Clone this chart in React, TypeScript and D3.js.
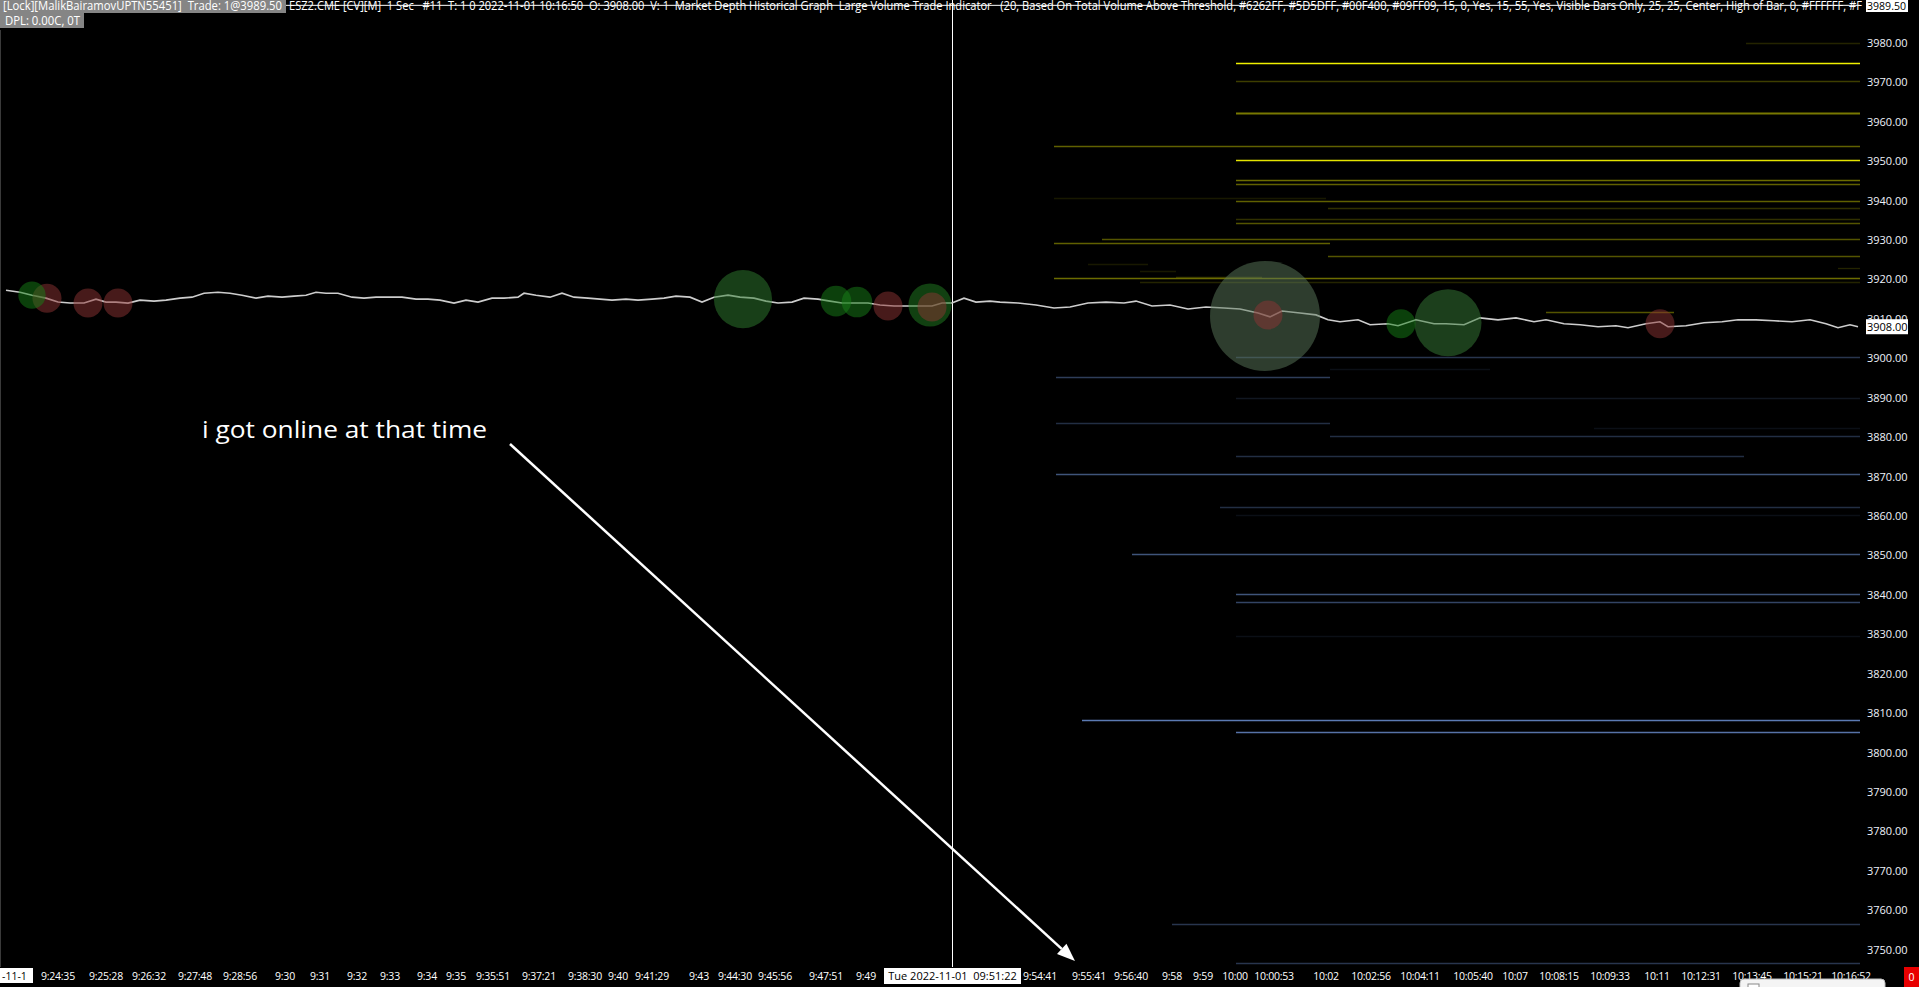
import React, { useEffect, useRef } from 'react'
import * as d3 from 'd3'

const WIDTH = 1919
const HEIGHT = 987
const FONT = '"Open Sans", "Noto Sans", sans-serif'

// 1 sec bars, index along the visible chart
const priceBars = [
  3, 10, 16, 23, 29, 35, 42, 48, 53, 58,
  64, 70, 77, 83, 90, 96, 102, 109, 115, 121,
  128, 134, 141, 147, 153, 158, 163, 169, 176, 182,
  188, 195, 201, 208, 214, 220, 227, 233, 239, 246,
  252, 259, 262, 268, 275, 281, 287, 294, 300, 306,
  313, 319, 326, 332, 338, 345, 351, 357, 364, 370,
  377, 383, 389, 396, 402, 409, 415, 421, 428, 434,
  440, 447, 453, 460, 466, 471, 476, 482, 488, 495,
  500, 509, 518, 527, 535, 544, 553, 562, 568, 576,
  585, 594, 603, 612, 620, 629, 635, 641, 650, 658,
  664, 670, 679, 685, 694, 699, 708, 717, 723, 732,
  740, 749, 758, 767, 773, 782, 790, 799, 808, 814,
  823, 830, 834, 843, 852, 861, 869, 878, 887, 896,
  905, 913, 919, 925, 929,
]
const priceValues = [
  3917.25, 3916.75, 3916.0, 3915.25, 3914.25, 3914.0, 3914.0, 3915.0, 3914.25, 3914.25,
  3914.0, 3914.75, 3914.5, 3914.75, 3915.25, 3915.5, 3916.5, 3916.75, 3916.5, 3916.0,
  3915.25, 3915.75, 3915.5, 3915.75, 3916.0, 3916.75, 3916.5, 3916.5, 3915.5, 3915.25,
  3915.5, 3915.5, 3915.5, 3915.0, 3915.0, 3914.75, 3914.0, 3914.75, 3914.25, 3915.25,
  3915.25, 3915.5, 3916.5, 3916.0, 3915.5, 3916.5, 3915.5, 3915.25, 3915.0, 3914.75,
  3915.0, 3914.75, 3915.0, 3915.25, 3915.75, 3915.5, 3914.25, 3915.5, 3916.0, 3915.5,
  3915.25, 3914.5, 3914.0, 3914.25, 3915.25, 3915.0, 3914.5, 3914.0, 3914.0, 3914.0,
  3913.5, 3913.25, 3913.25, 3913.25, 3913.25, 3914.0, 3914.0, 3915.25, 3914.25, 3914.5,
  3914.25, 3914.0, 3913.5, 3912.75, 3913.0, 3914.0, 3914.25, 3914.0, 3914.5, 3913.25,
  3913.5, 3912.5, 3913.0, 3912.75, 3912.5, 3911.5, 3910.5, 3912.0, 3911.5, 3911.0,
  3909.75, 3909.25, 3909.75, 3908.5, 3908.75, 3908.25, 3909.75, 3908.75, 3908.75, 3908.5,
  3910.25, 3909.75, 3910.25, 3909.25, 3909.75, 3908.75, 3908.5, 3908.0, 3908.25, 3907.75,
  3908.75, 3909.25, 3908.0, 3908.25, 3909.0, 3909.25, 3909.75, 3909.75, 3909.5, 3909.25,
  3909.75, 3908.75, 3907.75, 3908.5, 3908.0,
]

// large volume trades
const tradeBars = [16, 23.5, 44, 59, 371.5, 418, 428.5, 444, 465, 466, 632.5, 634, 700.5, 724, 830]
const tradePrices = [3916.0, 3915.25, 3914.0, 3914.0, 3915.0, 3914.5, 3914.25, 3913.25, 3913.5, 3913.0, 3910.75, 3911.0, 3908.75, 3909.0, 3908.75]
const tradeVolumes = [22, 25, 25, 25, 108, 28, 28, 25, 58, 25, 400, 25, 25, 145, 25]
const tradeSides = ['buy', 'sell', 'sell', 'sell', 'buy', 'buy', 'buy', 'sell', 'buy', 'sell', 'buy', 'sell', 'buy', 'buy', 'sell']

// market depth history, sell side
const askPrices = [3980.0, 3975.0, 3970.25, 3962.25, 3953.75, 3950.25, 3945.25, 3944.25, 3940.75, 3940.0, 3938.0, 3935.25, 3934.25, 3930.25, 3929.25, 3926.0, 3924.0, 3923.0, 3922.25, 3920.5, 3920.25, 3919.25, 3911.75]
const askStart = [873, 618, 618, 618, 527, 618, 618, 618, 527, 618, 664, 618, 618, 551, 527, 664, 544, 919, 570, 588, 527, 570, 773]
const askEnd = [930, 930, 930, 930, 930, 930, 930, 930, 663, 930, 930, 930, 930, 930, 665, 930, 574, 930, 588, 631, 930, 930, 837]
const askSizes = [15, 100, 26, 50, 40, 95, 45, 40, 10, 40, 20, 20, 35, 35, 40, 35, 10, 15, 10, 20, 45, 15, 35]

// market depth history, buy side
const bidPrices = [3900.25, 3897.25, 3895.25, 3890.0, 3883.5, 3882.25, 3880.25, 3875.25, 3870.75, 3862.25, 3860.25, 3850.25, 3840.25, 3838.25, 3829.5, 3808.25, 3805.25, 3756.5, 3746.75]
const bidStart = [618, 665, 528, 618, 528, 797, 665, 618, 528, 610, 618, 566, 618, 618, 618, 541, 618, 586, 618]
const bidEnd = [930, 745, 665, 930, 665, 930, 930, 872, 930, 930, 930, 930, 930, 930, 930, 930, 930, 930, 930]
const bidSizes = [35, 10, 40, 15, 30, 10, 30, 30, 55, 30, 10, 55, 55, 45, 10, 80, 75, 35, 35]

const priceTicks = [3750, 3760, 3770, 3780, 3790, 3800, 3810, 3820, 3830, 3840, 3850, 3860, 3870, 3880, 3890, 3900, 3910, 3920, 3930, 3940, 3950, 3960, 3970, 3980]

const timeLabels = [
  '9:24:35', '9:25:28', '9:26:32', '9:27:48', '9:28:56', '9:30', '9:31', '9:32', '9:33', '9:34',
  '9:35', '9:35:51', '9:37:21', '9:38:30', '9:40', '9:41:29', '9:43', '9:44:30', '9:45:56', '9:47:51',
  '9:49', '9:54:41', '9:55:41', '9:56:40', '9:58', '9:59', '10:00', '10:00:53', '10:02', '10:02:56',
  '10:04:11', '10:05:40', '10:07', '10:08:15', '10:09:33', '10:11', '10:12:31', '10:13:45', '10:15:21', '10:16:52',
]
const timeLabelBars = [
  29, 53, 74.5, 97.5, 120, 142.5, 160, 178.5, 195, 213.5,
  228, 246.5, 269.5, 292.5, 309, 326, 349.5, 367.5, 387.5, 413,
  433, 520, 544.5, 565.5, 586, 601.5, 617.5, 637, 663, 685.5,
  710, 736.5, 757.5, 779.5, 805, 828.5, 850.5, 876, 901.5, 925.5,
]

const headerLeft = '[Lock][MalikBairamovUPTN55451]  Trade: 1@3989.50'
const headerRight = 'ESZ2.CME [CV][M]  1 Sec   #11  T: 1 0 2022-11-01 10:16:50  O: 3908.00  V: 1  Market Depth Historical Graph  Large Volume Trade Indicator   (20, Based On Total Volume Above Threshold, #6262FF, #5D5DFF, #00F400, #09FF09, 15, 0, Yes, 15, 55, Yes, Visible Bars Only, 25, 25, Center, High of Bar, 0, #FFFFFF, #F'
const lastTradePrice = 3989.5
const lastPrice = 3908
const cursorBar = 476
const cursorLabel = 'Tue 2022-11-01  09:51:22'
const note = 'i got online at that time'

export default function App() {
  const svgRef = useRef<SVGSVGElement>(null)

  useEffect(() => {
    if (!svgRef.current) return
    document.body.style.margin = '0'
    document.body.style.background = '#000'
    const svg = d3.select(svgRef.current)
    svg.selectAll('*').remove()

    const x = d3.scaleLinear().domain([0, 930]).range([0, 1860])
    const y = d3.scaleLinear().domain([3750, 3980]).range([949.8, 42.8])
    const plotRight = 1860
    const axisTop = 967

    svg.append('rect').attr('width', WIDTH).attr('height', HEIGHT).attr('fill', '#000')

    // left border
    svg.append('line')
      .attr('x1', 0.5).attr('x2', 0.5).attr('y1', 30).attr('y2', axisTop)
      .attr('stroke', '#3a3a3a')

    // depth lines
    const askColor = d3.scaleLinear<string>().domain([0, 100]).range(['#000000', '#f0f000'])
    const bidColor = d3.scaleLinear<string>().domain([0, 100]).range(['#000000', '#7298de'])
    const depth = [
      ...askPrices.map((p, i) => ({ price: p, start: askStart[i], end: askEnd[i], size: askSizes[i], side: 'ask' })),
      ...bidPrices.map((p, i) => ({ price: p, start: bidStart[i], end: bidEnd[i], size: bidSizes[i], side: 'bid' })),
    ]
    svg.append('g')
      .selectAll('line')
      .data(depth)
      .join('line')
      .attr('x1', d => x(d.start))
      .attr('x2', d => x(d.end))
      .attr('y1', d => Math.round(y(d.price)) + 0.5)
      .attr('y2', d => Math.round(y(d.price)) + 0.5)
      .attr('stroke', d => d.side === 'ask' ? askColor(d.size) : bidColor(d.size))
      .attr('stroke-width', d => d.size >= 50 && d.size < 60 && d.side === 'ask' ? 2 : 1.3)

    // last trade line
    svg.append('line')
      .attr('x1', 0).attr('x2', plotRight)
      .attr('y1', y(lastTradePrice)).attr('y2', y(lastTradePrice))
      .attr('stroke', '#ffffff').attr('stroke-width', 1)

    // crosshair
    svg.append('line')
      .attr('x1', x(cursorBar) + 0.5).attr('x2', x(cursorBar) + 0.5)
      .attr('y1', 0).attr('y2', axisTop)
      .attr('stroke', '#ffffff').attr('stroke-width', 1)

    // price line
    const series = priceBars.map((b, i) => ({ bar: b, price: priceValues[i] }))
    const line = d3.line<{ bar: number; price: number }>()
      .x(d => x(d.bar))
      .y(d => y(d.price))
    svg.append('path')
      .datum(series)
      .attr('d', line)
      .attr('fill', 'none')
      .attr('stroke', '#cdcdcd')
      .attr('stroke-width', 1.6)
      .attr('stroke-linejoin', 'miter')

    // large trade bubbles
    const rScale = d3.scaleSqrt().domain([25, 400]).range([14.5, 55])
    const buyShade = d3.scaleSqrt<string>().domain([25, 400]).range(['#168016', '#5c7a5c']).clamp(true)
    const trades = tradeBars
      .map((b, i) => ({ bar: b, price: tradePrices[i], vol: tradeVolumes[i], side: tradeSides[i] }))
      .sort((a, b) => b.vol - a.vol)
    svg.append('g')
      .selectAll('ellipse')
      .data(trades)
      .join('ellipse')
      .attr('cx', d => x(d.bar))
      .attr('cy', d => y(d.price))
      .attr('rx', d => rScale(d.vol))
      .attr('ry', d => rScale(d.vol))
      .attr('fill', d => d.side === 'buy' ? buyShade(d.vol) : '#8e3434')
      .attr('fill-opacity', 0.5)

    // right price axis
    const axisG = svg.append('g').style('font-family', FONT).style('font-size', '11px')
    axisG.selectAll('text')
      .data(priceTicks)
      .join('text')
      .attr('x', 1867)
      .attr('y', d => y(d) + 4)
      .attr('fill', '#eef2fa')
      .text(d => d.toFixed(2))

    const lastY = y(lastPrice)
    axisG.append('rect')
      .attr('x', 1866).attr('y', lastY - 7.5).attr('width', 42).attr('height', 15).attr('fill', '#fff')
    axisG.append('text')
      .attr('x', 1867).attr('y', lastY + 4).attr('fill', '#000').text(lastPrice.toFixed(2))

    const tradeY = y(lastTradePrice)
    axisG.append('rect')
      .attr('x', 1866).attr('y', Math.max(0, tradeY - 6.5)).attr('width', 42).attr('height', 12).attr('fill', '#fff')
    axisG.append('text')
      .attr('x', 1867).attr('y', tradeY + 4.5).attr('fill', '#000')
      .attr('textLength', 39).attr('lengthAdjust', 'spacingAndGlyphs')
      .text(lastTradePrice.toFixed(2))

    // time axis
    const timeG = svg.append('g').style('font-family', FONT).style('font-size', '10.5px')
    timeG.selectAll('text')
      .data(timeLabels)
      .join('text')
      .attr('x', (d, i) => x(timeLabelBars[i]))
      .attr('y', 980)
      .attr('text-anchor', 'middle')
      .attr('letter-spacing', '-0.25')
      .attr('fill', '#ffffff')
      .text(d => d)

    timeG.append('rect').attr('x', 0).attr('y', 968).attr('width', 33).attr('height', 15).attr('fill', '#fff')
    timeG.append('text').attr('x', 2).attr('y', 980).attr('fill', '#000').text('-11-1')

    const cx = x(cursorBar)
    timeG.append('rect').attr('x', cx - 68).attr('y', 968).attr('width', 137).attr('height', 16).attr('fill', '#fff')
    timeG.append('text')
      .attr('x', cx + 0.5).attr('y', 980).attr('text-anchor', 'middle').attr('fill', '#000')
      .style('font-size', '11px')
      .attr('xml:space', 'preserve').style('white-space', 'pre')
      .text(cursorLabel)

    timeG.append('rect').attr('x', 1904).attr('y', 967).attr('width', 15).attr('height', 20).attr('fill', '#e80000')
    timeG.append('text').attr('x', 1911.5).attr('y', 981).attr('text-anchor', 'middle').attr('fill', '#fff').text('0')

    // windows popup peeking at the bottom
    svg.append('rect')
      .attr('x', 1740).attr('y', 979).attr('width', 145).attr('height', 14).attr('rx', 4)
      .attr('fill', '#f4f4f4').attr('stroke', '#bdbdbd')
    svg.append('rect')
      .attr('x', 1748).attr('y', 984).attr('width', 11).attr('height', 8)
      .attr('fill', '#fff').attr('stroke', '#888')

    // header
    const headG = svg.append('g').style('font-family', FONT).style('font-size', '12px')
    headG.append('rect').attr('x', 0).attr('y', 0).attr('width', 286).attr('height', 13).attr('fill', '#858585')
    headG.append('text')
      .attr('x', 3).attr('y', 10).attr('fill', '#fff')
      .attr('textLength', 279).attr('lengthAdjust', 'spacingAndGlyphs')
      .attr('xml:space', 'preserve').style('white-space', 'pre')
      .text(headerLeft)
    headG.append('text')
      .attr('x', 289).attr('y', 10).attr('fill', '#fff')
      .attr('textLength', 1573).attr('lengthAdjust', 'spacingAndGlyphs')
      .attr('xml:space', 'preserve').style('white-space', 'pre')
      .text(headerRight)
    headG.append('rect').attr('x', 0).attr('y', 13).attr('width', 84).attr('height', 15).attr('fill', '#858585')
    headG.append('text')
      .attr('x', 5).attr('y', 25).attr('fill', '#fff')
      .attr('textLength', 75).attr('lengthAdjust', 'spacingAndGlyphs')
      .text('DPL: 0.00C, 0T')

    // annotation
    svg.append('text')
      .attr('x', 202).attr('y', 438)
      .attr('fill', '#fff')
      .style('font-family', FONT).style('font-size', '23px')
      .attr('textLength', 285).attr('lengthAdjust', 'spacingAndGlyphs')
      .text(note)

    const from = [510, 444]
    const to = [1075, 961]
    const dx = to[0] - from[0]
    const dy = to[1] - from[1]
    const len = Math.hypot(dx, dy)
    const ux = dx / len
    const uy = dy / len
    const headLen = 18
    const headW = 7
    const bx = to[0] - ux * headLen
    const by = to[1] - uy * headLen
    svg.append('line')
      .attr('x1', from[0]).attr('y1', from[1]).attr('x2', bx).attr('y2', by)
      .attr('stroke', '#fff').attr('stroke-width', 2.5)
    svg.append('path')
      .attr('d', `M${to[0]},${to[1]} L${bx - uy * headW},${by + ux * headW} L${bx + uy * headW},${by - ux * headW} Z`)
      .attr('fill', '#fff')
  }, [])

  return (
    <svg
      ref={svgRef}
      width={WIDTH}
      height={HEIGHT}
      style={{ position: 'absolute', left: 0, top: 0, display: 'block', background: '#000' }}
    />
  )
}
